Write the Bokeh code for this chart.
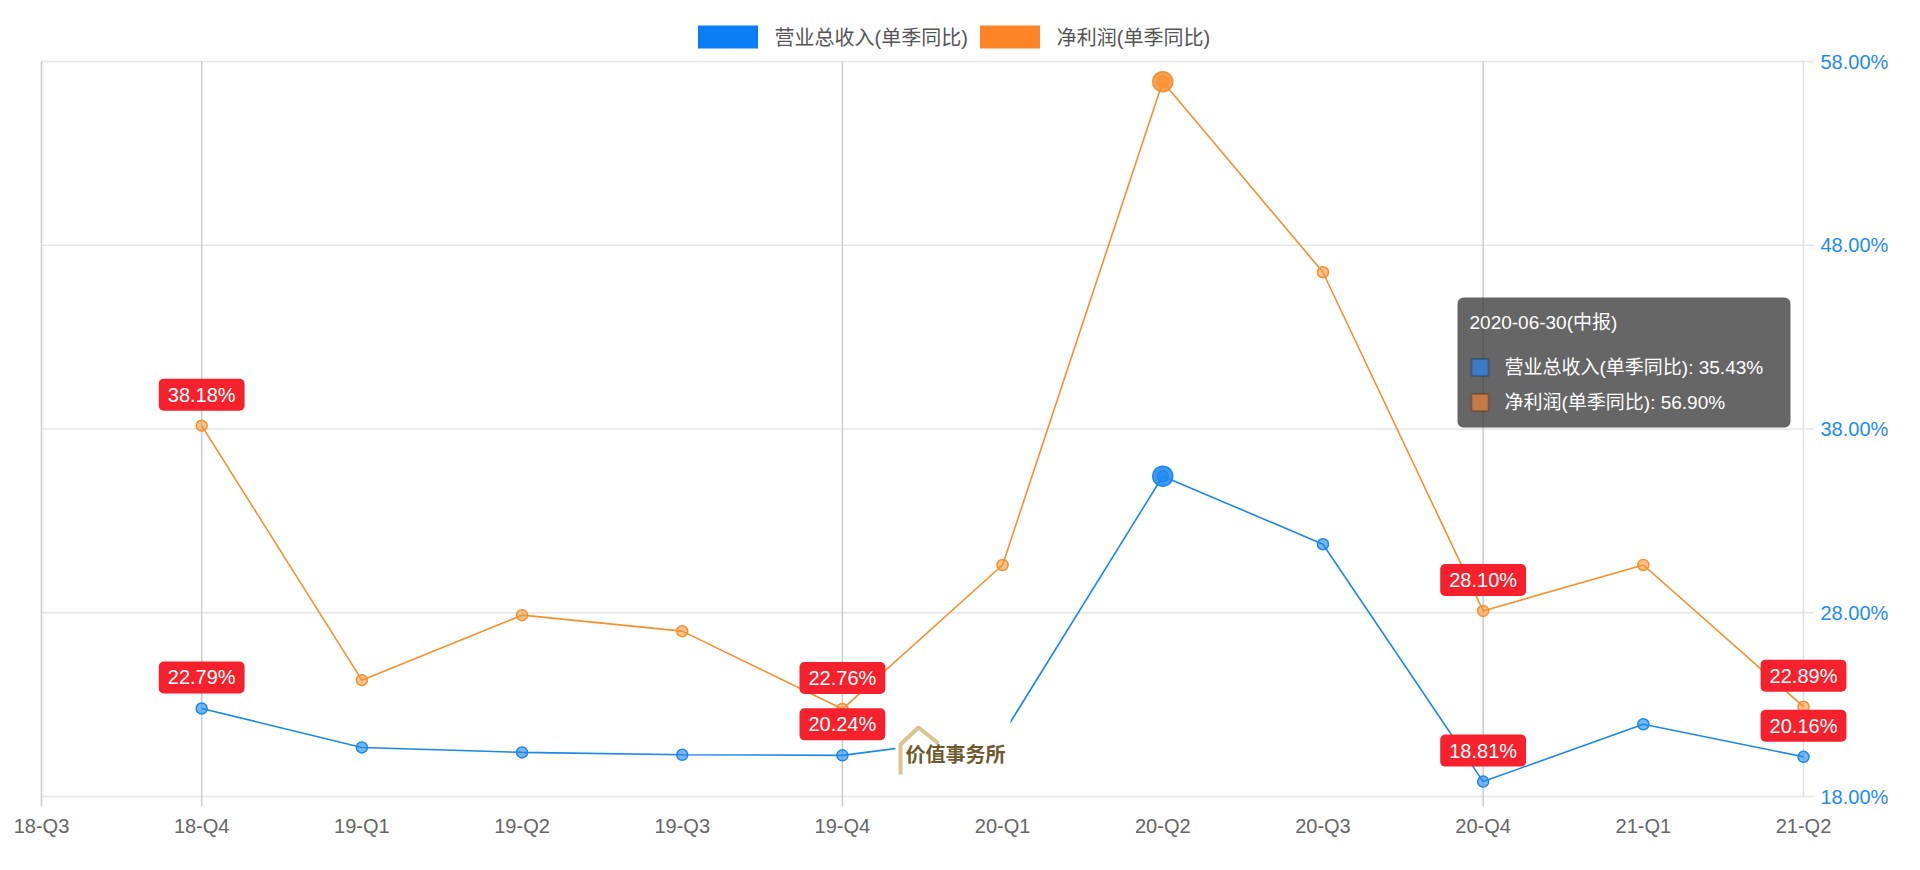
from bokeh.plotting import figure
from bokeh.models import (Range1d, FixedTicker, PrintfTickFormatter, Legend, LegendItem,
                          ColumnDataSource, Label, BoxAnnotation)
from bokeh.embed import file_html
from bokeh.resources import INLINE

# ---------------- data ----------------
quarters = ["18-Q3", "18-Q4", "19-Q1", "19-Q2", "19-Q3", "19-Q4",
            "20-Q1", "20-Q2", "20-Q3", "20-Q4", "21-Q1", "21-Q2"]
revenue_yoy = [None, 22.79, 20.67, 20.40, 20.27, 20.24, 21.36, 35.43, 31.73, 18.81, 21.93, 20.16]
profit_yoy = [None, 38.18, 24.33, 27.87, 27.00, 22.76, 30.60, 56.90, 46.53, 28.10, 30.60, 22.89]
revenue_name = "营业总收入(单季同比)"
profit_name = "净利润(单季同比)"
labeled_quarters = ["18-Q4", "19-Q4", "20-Q4", "21-Q2"]
year_line_quarters = ["18-Q3", "18-Q4", "19-Q4", "20-Q4"]
highlight_quarter = "20-Q2"
tooltip_title = "2020-06-30(中报)"
y_ticks = [18, 28, 38, 48, 58]
watermark_text = "价值事务所"

# ---------------- style / geometry ----------------
FONT = "Liberation Sans, Noto Sans CJK SC"
BLUE = "#1c87f0"
ORANGE = "#f7902f"
LEG_BLUE = "#0a7ff5"
LEG_ORANGE = "#fd8528"
RED = "#f5222d"
GRID = "#e6e6e6"
VGRID = "#cccccc"

# plot-area (axis box) in page pixels
AX_L, AX_R, AX_T, AX_B = 41, 1803, 61, 796
W, H = 1915, 862
BL, BR, BT, BB = 5, 5, 0, 5
NQ = len(quarters) - 1
PXQ = (AX_R - AX_L) / NQ                            # px per quarter
PXY = (AX_B - AX_T) / (y_ticks[-1] - y_ticks[0])    # px per percent
X_START = -(AX_L - BL) / PXQ
X_END = ((W - BR) - AX_L) / PXQ
Y_END = y_ticks[-1] + (AX_T - BT) / PXY
Y_START = y_ticks[0] - ((H - BB) - AX_B) / PXY

def px_x(page_x):
    return (page_x - AX_L) / PXQ
def px_y(page_y):
    return y_ticks[0] + (AX_B - page_y) / PXY

p = figure(width=W, height=H, x_range=Range1d(X_START, X_END), y_range=Range1d(Y_START, Y_END),
           y_axis_location="right", output_backend="svg", toolbar_location=None,
           min_border_left=BL, min_border_right=BR, min_border_top=BT, min_border_bottom=BB)
p.outline_line_color = None
p.xgrid.visible = False
p.ygrid.visible = False

# x axis: labels' top at page y 814 (axis drawn inside the widened frame)
XL_Y, XSHIFT = 814, 38
xa = p.xaxis[0]
xa.ticker = FixedTicker(ticks=list(range(len(quarters))))
xa.major_label_overrides = {i: q for i, q in enumerate(quarters)}
xa.fixed_location = px_y(AX_B + XSHIFT)
xa.major_label_standoff = (XL_Y - AX_B) - XSHIFT
xa.major_tick_line_color = None
xa.major_tick_out = 0
xa.major_tick_in = 0
xa.minor_tick_line_color = None
xa.axis_line_color = None
xa.major_label_text_font = FONT
xa.major_label_text_font_size = "20px"
xa.major_label_text_color = "#666666"

# y axis: labels start at page x 1820
YL_X, YSHIFT = 1820, 70
ya = p.yaxis[0]
ya.ticker = FixedTicker(ticks=y_ticks)
ya.formatter = PrintfTickFormatter(format="%.2f%%")
ya.fixed_location = px_x(YL_X + YSHIFT)
ya.major_label_standoff = -YSHIFT
ya.major_label_text_color = "#1f8ceb"
ya.major_label_text_font = FONT
ya.major_label_text_font_size = "20px"
ya.major_tick_out = 0
ya.major_tick_in = 0
ya.major_tick_line_color = None
ya.minor_tick_line_color = None
ya.axis_line_color = None

# grid lines (horizontal ones run past the last quarter by a 10px tick,
# year lines run below the axis by a 10px tick)
tick_x = 10 / PXQ
tick_y = 10 / PXY
p.segment(x0=0, x1=NQ + tick_x, y0=y_ticks, y1=y_ticks, line_color=GRID, line_width=1.5)
vx = [quarters.index(q) for q in year_line_quarters]
p.segment(x0=vx, x1=vx, y0=y_ticks[0] - tick_y, y1=y_ticks[-1], line_color=VGRID, line_width=1.5)
p.segment(x0=[NQ], x1=[NQ], y0=y_ticks[0], y1=y_ticks[-1], line_color="#e0e0e0", line_width=1.5)

nan = float("nan")
src = ColumnDataSource(dict(
    x=list(range(len(quarters))),
    rev=[nan if v is None else v for v in revenue_yoy],
    prof=[nan if v is None else v for v in profit_yoy],
))

p.line("x", "rev", source=src, line_color=BLUE, line_width=1.6)
p.scatter("x", "rev", source=src, size=11, fill_color=BLUE, fill_alpha=0.6,
          line_color=BLUE, line_width=1.5)
p.line("x", "prof", source=src, line_color=ORANGE, line_width=1.6)
p.scatter("x", "prof", source=src, size=11, fill_color=ORANGE, fill_alpha=0.55,
          line_color=ORANGE, line_width=1.5)

hi = quarters.index(highlight_quarter)
hsrc = ColumnDataSource(dict(x=[hi], rev=[revenue_yoy[hi]], prof=[profit_yoy[hi]]))
p.scatter("x", "rev", source=hsrc, size=20, fill_color=BLUE, fill_alpha=0.85,
          line_color=BLUE, line_width=1.5)
p.scatter("x", "prof", source=hsrc, size=20, fill_color=ORANGE, fill_alpha=0.85,
          line_color=ORANGE, line_width=1.5)

# legend (inside the extended frame, above the axis box)
r_lb = p.quad(left=[nan], right=[nan], top=[nan], bottom=[nan], fill_color=LEG_BLUE, line_color=None)
r_lo = p.quad(left=[nan], right=[nan], top=[nan], bottom=[nan], fill_color=LEG_ORANGE, line_color=None)
GW, GH = 75, 29
leg_left = 697 - 0.1 * GW
leg_bottom = 48 + 0.1 * GH
legend = Legend(items=[LegendItem(label=revenue_name, renderers=[r_lb]),
                       LegendItem(label=profit_name, renderers=[r_lo])],
                orientation="horizontal",
                location=(leg_left - BL, (H - BB) - leg_bottom),
                glyph_width=GW, glyph_height=GH, label_standoff=10, spacing=4,
                padding=0, margin=0, border_line_color=None, background_fill_alpha=0,
                label_text_font=FONT, label_text_font_size="20px",
                label_text_color="#555555", label_height=GH)
p.add_layout(legend)

# red value labels
for q in labeled_quarters:
    i = quarters.index(q)
    for vals in (revenue_yoy, profit_yoy):
        v = vals[i]
        p.add_layout(Label(x=i, y=v, text=f"{v:.2f}%", y_offset=31,
                           text_align="center", text_baseline="middle",
                           text_color="white", text_font=FONT, text_font_size="20px",
                           background_fill_color=RED, background_fill_alpha=1.0,
                           border_radius=5,
                           padding=dict(left=9, right=9, top=5, bottom=5)))

# watermark
p.add_layout(BoxAnnotation(left=px_x(895), right=px_x(1010), top=px_y(716), bottom=px_y(776),
                           fill_color="white", fill_alpha=1.0, line_color=None))
p.add_layout(Label(x=px_x(955), y=px_y(753), text=watermark_text, text_align="center",
                   text_baseline="middle", text_color="#6e5a2e", text_font="Noto Sans CJK SC",
                   text_font_style="bold", text_font_size="20px"))
house = p.line(x=[px_x(900), px_x(900), px_x(918), px_x(938)],
               y=[px_y(774), px_y(744), px_y(727), px_y(743)],
               line_color="#d8c590", line_width=4)
house.level = "overlay"

# tooltip
p.add_layout(BoxAnnotation(left=px_x(1457), right=px_x(1790), top=px_y(297), bottom=px_y(427),
                           fill_color="#333333", fill_alpha=0.75, line_color=None,
                           border_radius=6))
p.add_layout(Label(x=px_x(1469), y=px_y(322), text=tooltip_title, text_align="left",
                   text_baseline="middle", text_color="white", text_font=FONT,
                   text_font_size="19px"))
rows = [(revenue_name, revenue_yoy[hi], "#3b7bc8", "#0b2345", 367),
        (profit_name, profit_yoy[hi], "#c47a45", "#4a1f08", 402)]
for name, v, fc, lc, yy in rows:
    p.add_layout(BoxAnnotation(left=px_x(1471), right=px_x(1488), top=px_y(yy - 8.5),
                               bottom=px_y(yy + 8.5), fill_color=fc, fill_alpha=1.0,
                               line_color=lc, line_width=2))
    p.add_layout(Label(x=px_x(1504), y=px_y(yy), text=f"{name}: {v:.2f}%", text_align="left",
                       text_baseline="middle", text_color="white", text_font=FONT,
                       text_font_size="19px"))

open("out.html", "w").write(file_html(p, INLINE))
